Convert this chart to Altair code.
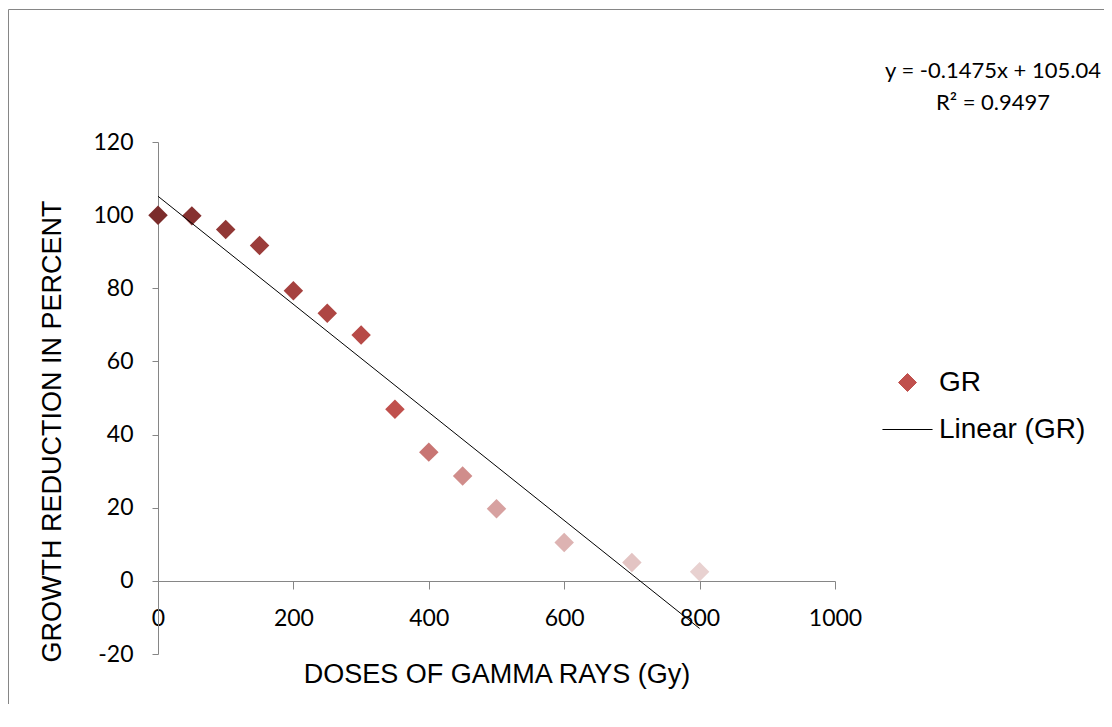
import altair as alt
import pandas as pd

# ---- data ----
doses = [0, 50, 100, 150, 200, 250, 300, 350, 400, 450, 500, 600, 700, 800]
growth_reduction = [100, 99.8, 96.1, 91.7, 79.3, 73.2, 67.2, 46.9, 35.2, 28.7, 19.7, 10.5, 5.0, 2.5]
series_names = ["GR", "Linear (GR)"]
x_ticks = [0, 200, 400, 600, 800, 1000]
y_ticks = [-20, 0, 20, 40, 60, 80, 100, 120]
equation_text = "y = -0.1475x + 105.04"
r2_text = "R² = 0.9497"

# ---- styles ----
base_red = "#C0504D"
point_colors = ["#7B2C2B", "#863130", "#913735", "#9B3C3A", "#A5413F", "#AE4643", "#B74A47",
                "#C0504D", "#C87573", "#D08D8B", "#D7A1A0", "#DDB3B2", "#E3C4C3", "#E8D1D0"]
diamond_path = "M0,-0.6L0.6,0L0,0.6L-0.6,0Z"
line_path = "M-1.67,0L1.67,0"
axis_gray = "#868686"

df = pd.DataFrame({"dose": doses, "gr": growth_reduction, "series": ["GR"] * len(doses)})

x_enc = alt.X("dose:Q",
              scale=alt.Scale(domain=[0, 1000], nice=False, zero=False),
              axis=alt.Axis(values=x_ticks, title="DOSES OF GAMMA RAYS (Gy)", offset=-73,
                            labelExpr="toString(datum.value)",
                            grid=False, domainColor=axis_gray, tickColor=axis_gray, tickSize=8,
                            labelPadding=18, labelFont="Lato", labelFontSize=23, labelColor="black",
                            labelFlush=False, titleFont="Liberation Sans", titleFontSize=27,
                            titleFontWeight="normal", titleColor="black", titleY=93,
                            titleBaseline="middle"))
y_enc = alt.Y("gr:Q",
              scale=alt.Scale(domain=[-20, 120], nice=False, zero=False),
              axis=alt.Axis(values=y_ticks, title="GROWTH REDUCTION IN PERCENT",
                            labelExpr="toString(datum.value)",
                            grid=False, domainColor=axis_gray, tickColor=axis_gray, tickSize=6,
                            labelPadding=19, labelFont="Lato", labelFontSize=23, labelColor="black",
                            labelFlush=False, titleFont="Liberation Sans", titleFontSize=27,
                            titleFontWeight="normal", titleColor="black", titleX=-105.5, titleY=289,
                            titleBaseline="middle"))

base = alt.Chart(df)

legend_props = dict(title=None, orient="none", legendX=734, legendY=225, symbolSize=900,
                    symbolStrokeWidth=1, labelFont="Liberation Sans", labelFontSize=28,
                    labelColor="black", labelOffset=16, rowPadding=17, padding=0, labelLimit=400)

legend_layer = base.transform_filter("false").mark_point(
    filled=True, color=base_red, opacity=1
).encode(
    x=x_enc, y=y_enc,
    stroke=alt.Stroke("series:N", scale=alt.Scale(domain=series_names, range=[base_red, "black"]),
                      legend=alt.Legend(**legend_props)),
    shape=alt.Shape("series:N", scale=alt.Scale(domain=series_names, range=[diamond_path, line_path]),
                    legend=alt.Legend(**legend_props)),
)

points = base.mark_point(filled=True, shape="diamond", size=380, opacity=1, strokeWidth=0).encode(
    x=x_enc, y=y_enc,
    fill=alt.Fill("dose:O", scale=alt.Scale(domain=doses, range=point_colors), legend=None),
)

trend = base.transform_regression("dose", "gr", method="linear").mark_line(
    color="black", strokeWidth=1
).encode(x=x_enc, y=y_enc)

frame = alt.Chart(pd.DataFrame({"k": [0]})).mark_rect(
    fill="white", fillOpacity=0, stroke=axis_gray, strokeWidth=1
).encode(x=alt.value(-149.5), y=alt.value(-132.5), x2=alt.value(2000), y2=alt.value(2000))

chart = alt.layer(frame, legend_layer, points, trend).properties(
    width=677, height=512,
    background="white",
    padding={"left": 150, "top": 134, "right": 269, "bottom": 50},
    autosize=alt.AutoSizeParams(type="none"),
    title=alt.TitleParams(text=equation_text, subtitle=r2_text, anchor="start", align="center",
                          dx=835, dy=132, offset=26, font="Lato", fontSize=22, fontWeight="normal",
                          color="black", subtitleFont="Lato", subtitleFontSize=22,
                          subtitleColor="black", subtitlePadding=10, frame="group"),
).configure_view(stroke=None)

chart.save("out.html", embed_options={"renderer": "svg", "actions": False})
